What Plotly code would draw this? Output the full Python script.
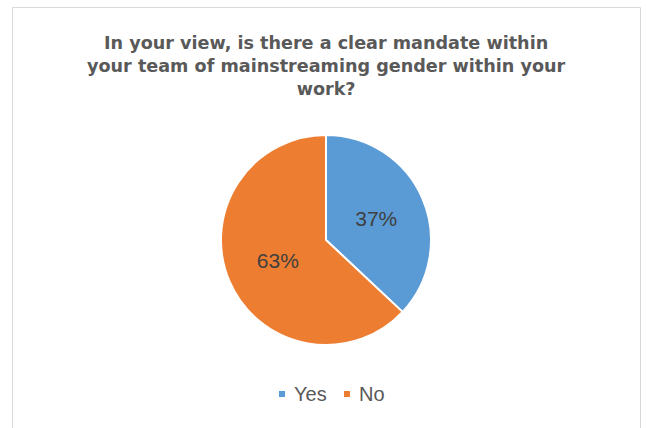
import plotly.graph_objects as go

# Survey answers and their shares (percent)
categories = ["Yes", "No"]
shares = [37, 63]
colors = ["#5B9BD5", "#ED7D31"]

title_lines = [
    "In your view, is there a clear mandate within",
    "your team of mainstreaming gender within your",
    "work?",
]

W, H = 646, 428
cx, cy, r = 326, 240, 105

fig = go.Figure()
fig.add_trace(go.Pie(
    labels=categories,
    values=shares,
    sort=False,
    direction="clockwise",
    rotation=0,
    marker=dict(colors=colors, line=dict(color="white", width=2)),
    textinfo="percent",
    textposition="inside",
    insidetextorientation="horizontal",
    insidetextfont=dict(family="Liberation Sans, Arial", size=21, color="#404040"),
    hoverinfo="label+percent",
    showlegend=False,
    domain=dict(x=[(cx - r) / W, (cx + r) / W], y=[1 - (cy + r) / H, 1 - (cy - r) / H]),
))

annotations = [dict(
    text="<b>" + "<br>".join(title_lines) + "</b>",
    x=cx / W, y=1 - 65.5 / H, xref="paper", yref="paper",
    xanchor="center", yanchor="middle", showarrow=False,
    font=dict(family="DejaVu Sans", size=17.6, color="#595959"),
    align="center",
)]

shapes = [dict(
    type="rect", xref="paper", yref="paper",
    x0=12.5 / W, x1=640.5 / W, y0=-0.05, y1=1 - 7.5 / H,
    line=dict(color="#D9D9D9", width=1), fillcolor="rgba(0,0,0,0)",
)]

# Legend entries: small colour square followed by category name
legend_x = [279, 344]
legend_y = 394
for name, col, lx in zip(categories, colors, legend_x):
    shapes.append(dict(
        type="rect", xref="paper", yref="paper",
        x0=lx / W, x1=(lx + 6) / W,
        y0=1 - (legend_y + 3) / H, y1=1 - (legend_y - 3) / H,
        line=dict(width=0), fillcolor=col,
    ))
    annotations.append(dict(
        text=name, x=(lx + 13) / W, y=1 - legend_y / H,
        xref="paper", yref="paper", xanchor="left", yanchor="middle",
        showarrow=False,
        font=dict(family="Liberation Sans, Arial", size=20, color="#595959"),
    ))

fig.update_layout(
    width=W, height=H,
    margin=dict(l=0, r=0, t=0, b=0),
    paper_bgcolor="white", plot_bgcolor="white",
    annotations=annotations, shapes=shapes,
    showlegend=False,
)

fig.write_html("out.html")
